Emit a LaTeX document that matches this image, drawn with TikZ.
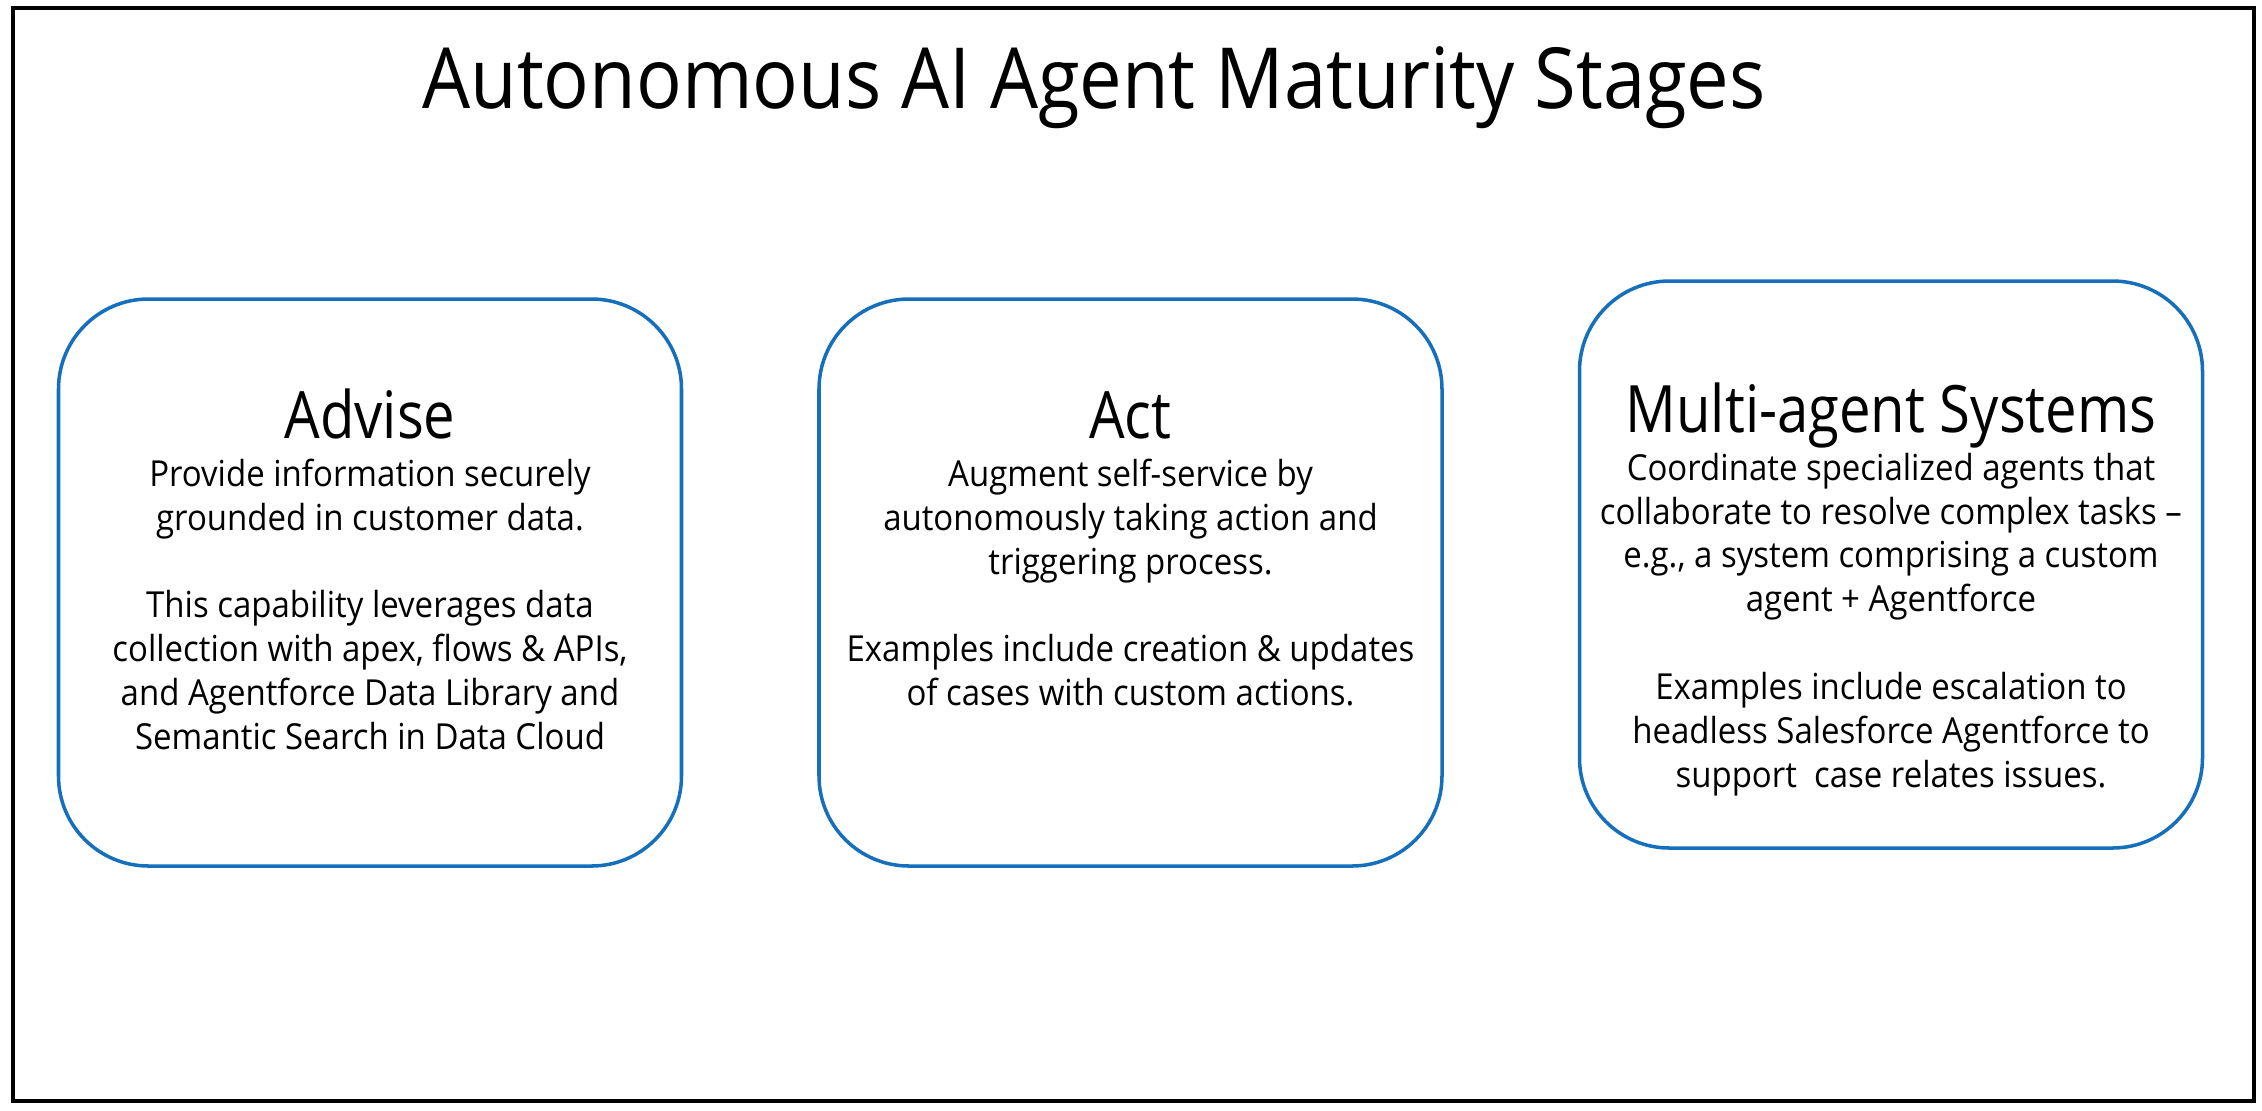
\documentclass[tikz,border=0pt]{standalone}
\usepackage{fontspec}
\setmainfont[FakeStretch=0.92]{Open Sans}
\newfontfamily\headfont[FakeStretch=0.86]{Open Sans}
\newfontfamily\titlefont[FakeStretch=0.9]{Open Sans}
\usetikzlibrary{positioning}
\definecolor{stageblue}{RGB}{21,111,186}
\tikzset{stage/.style={draw=stageblue, line width=1pt, rounded corners=0.9cm,
                       minimum width=6.23cm, minimum height=5.67cm},
        stage text/.style={align=center, inner sep=0pt,
                           font=\fontsize{10.2pt}{12.5pt}\selectfont},
        title/.style={inner sep=0pt, font=\titlefont\fontsize{24pt}{28pt}\selectfont},
        }
\newcommand{\stagehead}[1]{{\headfont\fontsize{18.6pt}{22pt}\selectfont #1}}

\begin{document}
\begin{tikzpicture}
    \useasboundingbox (0,0) rectangle (22.62,-11.10);
    \draw [line width=1.15pt] (0.13,-0.08) rectangle (22.54,-11.01);

    \node [title, anchor=base] (heading) at (10.94,-1.08) {Autonomous AI Agent Maturity Stages};

    \node [stage] (advise) at (3.70,-5.825) {};
    \node [stage] (act) at (11.305,-5.825) {};
    \node [stage] (multi) at (18.91,-5.645) {};

    \node [stage text, below=0.91cm of advise.north] (advisetext) {\stagehead{Advise}\\[1pt]
        Provide information securely\\
        grounded in customer data.\\[12.5pt]
        This capability leverages data\\
        collection with apex, flows \& APIs,\\
        and Agentforce Data Library and\\
        Semantic Search in Data Cloud};

    \node [stage text, below=0.94cm of act.north] (acttext) {\stagehead{Act}\\[1pt]
        Augment self-service by\\
        autonomously taking action and\\
        triggering process.\\[12.5pt]
        Examples include creation \& updates\\
        of cases with custom actions.};

    \node [stage text, below=1.03cm of multi.north] (multitext) {\stagehead{Multi-agent Systems}\\[1pt]
        Coordinate specialized agents that\\
        collaborate to resolve complex tasks –\\
        e.g., a system comprising a custom\\
        agent + Agentforce\\[12.5pt]
        Examples include escalation to\\
        headless Salesforce Agentforce to\\
        support\ \ case relates issues.};
\end{tikzpicture}
\end{document}
